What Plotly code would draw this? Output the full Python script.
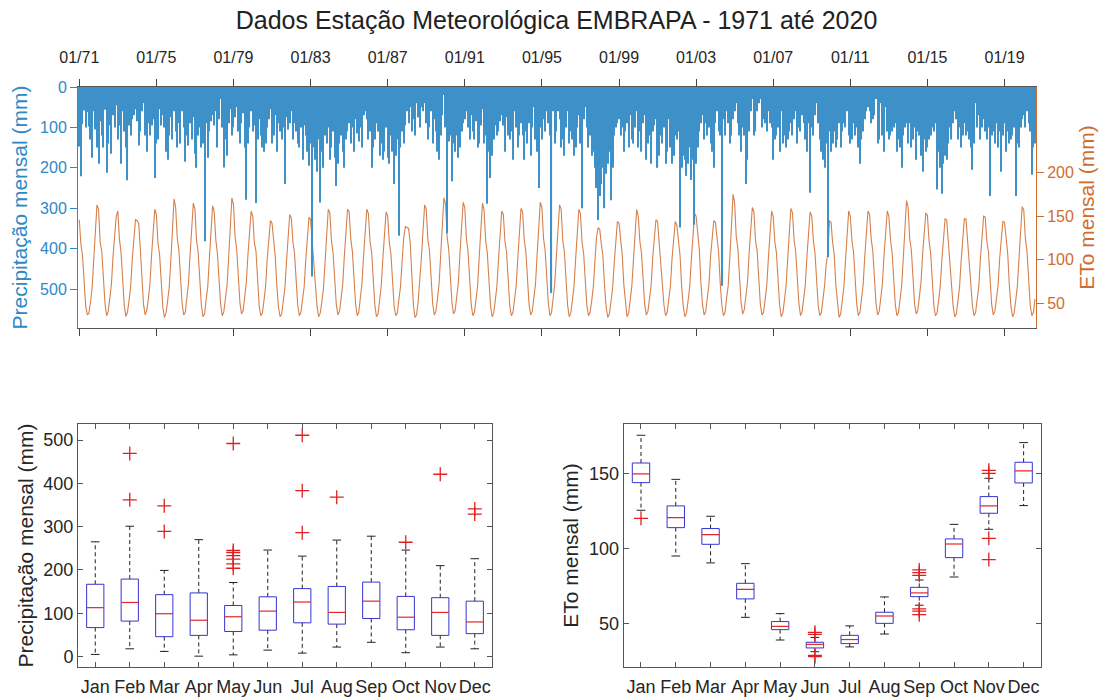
import plotly.graph_objects as go

# ---------------- data ----------------
title_text = "Dados Estação Meteorológica EMBRAPA - 1971 até 2020"
year_tick_labels = ["01/71", "01/75", "01/79", "01/83", "01/87", "01/91", "01/95",
                    "01/99", "01/03", "01/07", "01/11", "01/15", "01/19"]
month_labels = ["Jan", "Feb", "Mar", "Apr", "May", "Jun",
                "Jul", "Aug", "Sep", "Oct", "Nov", "Dec"]

# monthly precipitation (mm), Jan 1971 .. Aug 2020, one row per year
precip_rows = [
    [147, 221, 92, 58, 100, 62, 98, 130, 175, 60, 105, 150],
    [190, 85, 120, 150, 56, 212, 140, 95, 165, 70, 100, 45],
    [130, 95, 190, 60, 110, 150, 231, 95, 120, 80, 70, 55],
    [85, 145, 110, 60, 40, 120, 160, 90, 120, 95, 80, 225],
    [140, 130, 55, 95, 70, 100, 160, 180, 120, 75, 130, 60],
    [110, 150, 90, 140, 60, 100, 185, 120, 145, 90, 130, 75],
    [165, 200, 120, 100, 150, 140, 382, 90, 175, 110, 85, 70],
    [95, 60, 150, 80, 30, 100, 199, 130, 170, 90, 55, 120],
    [100, 75, 50, 110, 140, 90, 65, 150, 279, 140, 100, 60],
    [110, 95, 287, 130, 80, 120, 150, 160, 140, 100, 80, 55],
    [140, 120, 70, 160, 90, 110, 130, 100, 240, 75, 105, 90],
    [60, 130, 90, 110, 140, 150, 100, 180, 95, 120, 160, 195],
    [140, 469, 150, 180, 210, 130, 286, 160, 200, 120, 140, 100],
    [180, 150, 110, 175, 245, 190, 140, 120, 160, 200, 130, 110],
    [90, 140, 100, 160, 80, 115, 135, 100, 150, 70, 60, 80],
    [130, 110, 200, 150, 130, 90, 110, 170, 140, 180, 160, 100],
    [175, 190, 120, 160, 240, 170, 130, 368, 150, 110, 140, 95],
    [60, 90, 50, 110, 80, 120, 40, 75, 100, 50, 60, 40],
    [90, 130, 100, 60, 140, 80, 110, 160, 180, 120, 70, 20],
    [100, 362, 135, 120, 233, 140, 160, 120, 175, 150, 110, 90],
    [80, 60, 100, 130, 70, 110, 130, 85, 150, 140, 95, 55],
    [140, 120, 289, 160, 225, 170, 130, 95, 120, 110, 85, 70],
    [95, 160, 75, 120, 130, 110, 180, 60, 100, 150, 120, 90],
    [120, 180, 110, 140, 90, 170, 100, 50, 130, 160, 250, 100],
    [130, 80, 110, 60, 90, 120, 510, 60, 140, 110, 60, 80],
    [150, 130, 170, 100, 60, 140, 110, 130, 170, 150, 100, 70],
    [140, 300, 80, 50, 100, 150, 120, 170, 160, 200, 250, 329],
    [270, 240, 200, 300, 215, 190, 160, 280, 200, 120, 100, 90],
    [80, 120, 100, 160, 110, 90, 150, 70, 130, 140, 100, 60],
    [150, 110, 160, 90, 70, 180, 140, 120, 190, 110, 95, 80],
    [200, 170, 120, 140, 100, 190, 160, 80, 150, 190, 170, 120],
    [130, 110, 348, 200, 170, 180, 220, 190, 150, 230, 180, 341],
    [190, 150, 110, 90, 70, 130, 90, 120, 100, 140, 160, 200],
    [90, 60, 110, 120, 492, 80, 120, 60, 90, 140, 120, 80],
    [60, 40, 90, 120, 160, 100, 120, 240, 180, 110, 60, 30],
    [120, 110, 60, 40, 30, 100, 80, 90, 110, 60, 90, 100],
    [180, 130, 120, 100, 160, 60, 140, 120, 150, 130, 110, 90],
    [120, 80, 60, 140, 100, 110, 70, 90, 130, 160, 90, 262],
    [100, 120, 70, 40, 90, 130, 160, 180, 200, 140, 421, 110],
    [160, 140, 110, 150, 130, 90, 150, 110, 90, 100, 60, 120],
    [140, 130, 90, 120, 100, 150, 190, 130, 110, 80, 60, 50],
    [60, 90, 80, 70, 30, 140, 130, 40, 120, 160, 50, 110],
    [130, 120, 110, 100, 90, 160, 130, 150, 200, 120, 100, 90],
    [140, 90, 150, 130, 100, 180, 110, 120, 170, 210, 130, 160],
    [150, 130, 120, 100, 110, 90, 254, 160, 200, 264, 190, 170],
    [180, 140, 100, 130, 90, 60, 80, 130, 100, 150, 120, 90],
    [120, 110, 130, 150, 205, 140, 40, 100, 70, 130, 100, 80],
    [110, 130, 100, 270, 120, 110, 140, 90, 150, 110, 210, 120],
    [90, 160, 110, 140, 130, 120, 100, 270, 140, 150, 100, 80],
    [70, 100, 60, 90, 110, 217, 150, 140],
]

# monthly reference evapotranspiration ETo (mm), same period
eto_rows = [
    [146, 118, 105, 70, 47, 37, 39, 52, 68, 100, 132, 163],
    [158, 120, 110, 72, 50, 36, 41, 56, 72, 104, 128, 150],
    [156, 124, 108, 74, 48, 35, 40, 54, 70, 101, 127, 146],
    [145, 142, 112, 73, 49, 37, 42, 55, 73, 105, 131, 158],
    [152, 119, 106, 71, 46, 34, 39, 53, 69, 99, 134, 170],
    [160, 125, 111, 75, 50, 37, 40, 57, 74, 107, 136, 165],
    [158, 122, 109, 72, 48, 35, 38, 55, 70, 102, 130, 162],
    [155, 123, 107, 74, 49, 36, 41, 56, 71, 103, 138, 171],
    [163, 126, 112, 76, 51, 38, 42, 58, 75, 106, 133, 156],
    [150, 120, 110, 73, 47, 36, 39, 54, 70, 101, 127, 145],
    [142, 119, 104, 70, 46, 35, 38, 53, 68, 98, 129, 152],
    [148, 121, 107, 72, 48, 36, 40, 55, 69, 100, 128, 149],
    [146, 118, 103, 71, 47, 35, 39, 52, 67, 97, 131, 158],
    [154, 122, 108, 74, 49, 37, 41, 56, 72, 104, 132, 158],
    [155, 124, 110, 75, 50, 36, 40, 57, 73, 105, 133, 158],
    [153, 121, 109, 73, 48, 35, 38, 54, 71, 102, 130, 155],
    [150, 120, 107, 72, 47, 36, 39, 55, 70, 99, 126, 138],
    [137, 136, 120, 74, 48, 34, 37, 53, 85, 103, 134, 163],
    [158, 123, 111, 75, 50, 37, 41, 56, 73, 106, 137, 171],
    [164, 126, 112, 76, 51, 38, 42, 58, 74, 108, 135, 166],
    [160, 124, 110, 74, 49, 36, 40, 55, 71, 104, 134, 165],
    [157, 122, 108, 73, 48, 35, 39, 54, 70, 101, 130, 156],
    [152, 121, 109, 72, 47, 36, 40, 55, 71, 102, 131, 159],
    [155, 123, 110, 74, 49, 37, 41, 57, 72, 105, 135, 166],
    [160, 125, 111, 75, 50, 36, 40, 56, 73, 104, 133, 163],
    [158, 122, 109, 73, 48, 35, 39, 54, 70, 101, 130, 158],
    [153, 120, 107, 71, 47, 36, 40, 53, 69, 98, 126, 137],
    [135, 118, 104, 70, 46, 34, 38, 52, 67, 96, 122, 144],
    [142, 119, 106, 72, 48, 35, 39, 54, 70, 100, 128, 158],
    [150, 121, 108, 73, 49, 37, 41, 56, 71, 103, 130, 146],
    [144, 120, 107, 72, 48, 36, 40, 55, 70, 101, 127, 144],
    [140, 118, 105, 70, 47, 35, 39, 53, 69, 99, 124, 153],
    [150, 131, 112, 73, 49, 37, 41, 57, 72, 104, 129, 145],
    [143, 121, 109, 74, 48, 36, 40, 56, 71, 103, 135, 175],
    [165, 126, 113, 76, 51, 38, 43, 59, 75, 107, 136, 160],
    [155, 122, 110, 73, 49, 37, 40, 55, 71, 102, 131, 156],
    [150, 121, 108, 72, 48, 35, 39, 54, 70, 101, 130, 159],
    [154, 123, 109, 74, 50, 36, 41, 56, 72, 104, 132, 155],
    [150, 122, 108, 73, 48, 36, 40, 55, 71, 95, 107, 145],
    [143, 120, 106, 71, 47, 34, 38, 53, 69, 99, 128, 156],
    [150, 122, 109, 73, 49, 36, 40, 56, 72, 104, 131, 156],
    [152, 124, 110, 74, 50, 37, 41, 57, 73, 105, 132, 156],
    [150, 123, 109, 73, 49, 36, 40, 55, 71, 103, 134, 168],
    [160, 124, 111, 75, 50, 38, 42, 58, 74, 106, 132, 154],
    [151, 122, 108, 73, 48, 36, 39, 54, 70, 100, 129, 147],
    [146, 121, 107, 72, 47, 35, 38, 53, 69, 99, 128, 147],
    [147, 122, 108, 73, 48, 36, 40, 55, 70, 101, 130, 150],
    [149, 121, 109, 72, 49, 37, 41, 56, 71, 102, 127, 144],
    [143, 120, 107, 71, 47, 35, 39, 54, 70, 101, 133, 161],
    [157, 124, 110, 74, 48, 36, 40, 55],
]

# box-plot statistics per month
p_low = [5, 18, 12, 1, 4, 15, 8, 22, 33, 9, 22, 18]
p_q1 = [67, 82, 46, 49, 58, 61, 78, 75, 88, 62, 49, 53]
p_med = [113, 125, 99, 84, 92, 105, 126, 102, 128, 91, 102, 80]
p_q3 = [167, 179, 143, 147, 118, 138, 157, 162, 172, 139, 136, 128]
p_high = [265, 301, 199, 270, 171, 246, 232, 269, 278, 246, 210, 226]
p_out_month = [2, 2, 3, 3, 5, 5, 5, 5, 5, 5, 5, 7, 7, 7, 8, 10, 11, 12, 12]
p_out_value = [469, 362, 348, 289, 492, 245, 240, 233, 225, 214, 204,
               511, 383, 286, 368, 264, 421, 341, 329]

e_low = [125.8, 95.3, 90.7, 54.4, 39.3, 31.5, 34.7, 43.3, 62.5, 81.3, 113.1, 128.9]
e_q1 = [144.2, 114.2, 103.1, 66.7, 46.2, 34.0, 36.9, 50.4, 68.2, 94.2, 123.8, 144.0]
e_med = [150.0, 120.9, 109.6, 73.1, 48.4, 36.4, 39.6, 55.3, 70.7, 103.3, 128.7, 152.0]
e_q3 = [157.3, 128.7, 113.6, 77.1, 51.6, 37.8, 42.4, 57.8, 74.4, 106.7, 134.9, 157.8]
e_high = [175.8, 146.4, 121.8, 90.2, 56.9, 41.0, 48.7, 68.0, 79.3, 116.4, 147.1, 170.9]
e_out_month = [1, 6, 6, 6, 6, 9, 9, 9, 9, 9, 9, 11, 11, 11, 11]
e_out_value = [120.4, 44.4, 43.0, 29.0, 28.2, 86.0, 84.2, 82.4, 60.0, 58.6, 56.2,
               152.4, 150.4, 107.1, 92.9]

# ---------------- styling ----------------
FONT = "Liberation Sans, Arial, Helvetica, sans-serif"
BLUE_AX = "#2c89c6"
BAR_BLUE = "#3d90c8"
ORANGE_AX = "#cf6d2e"
ORANGE_LINE = "#d6804c"
FRAME = "#555555"
BOX_BLUE = "#3535cf"
MED_RED = "#e0282a"
OUT_RED = "#e02020"

precip = [v for row in precip_rows for v in row]
eto = [v for row in eto_rows for v in row]
idx = list(range(len(precip)))
tick_pos = [48 * k for k in range(len(year_tick_labels))]

fig = go.Figure()

# ETo line (right axis, base y)
fig.add_trace(go.Scatter(x=idx, y=eto, mode="lines", xaxis="x", yaxis="y",
                         line=dict(color=ORANGE_LINE, width=1.1),
                         showlegend=False, hoverinfo="skip"))
# precipitation bars (left axis, overlaying -> drawn above line)
fig.add_trace(go.Bar(x=idx, y=precip, xaxis="x", yaxis="y2",
                     marker=dict(color=BAR_BLUE, line=dict(width=0)),
                     showlegend=False, hoverinfo="skip"))


def box_traces(low, q1, med, q3, high, out_m, out_v, xa, ya):
    bx, by, mx, my, wx, wy, cx, cy = [], [], [], [], [], [], [], []
    for i in range(len(med)):
        m = i + 1
        bx += [m - 0.25, m + 0.25, m + 0.25, m - 0.25, m - 0.25, None]
        by += [q1[i], q1[i], q3[i], q3[i], q1[i], None]
        mx += [m - 0.25, m + 0.25, None]
        my += [med[i], med[i], None]
        wx += [m, m, None, m, m, None]
        wy += [q3[i], high[i], None, q1[i], low[i], None]
        cx += [m - 0.125, m + 0.125, None, m - 0.125, m + 0.125, None]
        cy += [high[i], high[i], None, low[i], low[i], None]
    tr = [
        go.Scatter(x=wx, y=wy, mode="lines", line=dict(color="#222222", width=1, dash="4px,3px")),
        go.Scatter(x=cx, y=cy, mode="lines", line=dict(color="#222222", width=1)),
        go.Scatter(x=bx, y=by, mode="lines", line=dict(color=BOX_BLUE, width=1)),
        go.Scatter(x=mx, y=my, mode="lines", line=dict(color=MED_RED, width=1.2)),
        go.Scatter(x=out_m, y=out_v, mode="markers",
                   marker=dict(symbol="cross-thin", size=10, line=dict(color=OUT_RED, width=1.3))),
    ]
    for t in tr:
        t.update(xaxis=xa, yaxis=ya, showlegend=False, hoverinfo="skip")
    return tr


for t in box_traces(p_low, p_q1, p_med, p_q3, p_high, p_out_month, p_out_value, "x2", "y3"):
    fig.add_trace(t)
for t in box_traces(e_low, e_q1, e_med, e_q3, e_high, e_out_month, e_out_value, "x3", "y4"):
    fig.add_trace(t)

W, H = 1113, 700
top_dom = [1 - 328 / H, 1 - 87 / H]
bot_dom = [1 - 667 / H, 1 - 424 / H]

box_axis = dict(showline=True, linecolor=FRAME, linewidth=1, mirror="allticks",
                ticks="inside", ticklen=5, tickcolor=FRAME, showgrid=False, zeroline=False,
                automargin=False, tickfont=dict(size=18, color="#262626"))

fig.update_layout(
    width=W, height=H,
    margin=dict(l=0, r=0, t=0, b=0),
    paper_bgcolor="white", plot_bgcolor="white",
    font=dict(family=FONT, color="#262626"),
    bargap=0.3,
    title=dict(text=title_text, x=0.5, xanchor="center", y=1 - 20 / H, yanchor="middle",
               font=dict(size=25, color="#222222"), automargin=False),
    xaxis=dict(domain=[78 / W, 1036 / W], anchor="y", side="top",
               range=[-0.8, 595.6], tickvals=tick_pos, ticktext=year_tick_labels,
               ticks="outside", ticklen=7, tickcolor="#444444", ticklabelstandoff=10,
               showline=True, linecolor="#555555", linewidth=1, mirror="ticks",
               showgrid=False, zeroline=False, automargin=False,
               tickfont=dict(size=16, color="#262626")),
    yaxis=dict(domain=top_dom, anchor="x", side="right", range=[22, 298],
               tickvals=[50, 100, 150, 200], ticks="outside", ticklen=7,
               tickcolor=ORANGE_AX, showline=True, linecolor=ORANGE_AX, linewidth=1,
               showgrid=False, zeroline=False, automargin=False,
               tickfont=dict(size=16, color=ORANGE_AX),
               title=dict(text="ETo mensal (mm)", font=dict(size=21, color=ORANGE_AX), standoff=6)),
    yaxis2=dict(overlaying="y", anchor="x", side="left", range=[596.5, 0],
                tickvals=[0, 100, 200, 300, 400, 500], ticks="outside", ticklen=7,
                tickcolor=BLUE_AX, showline=True, linecolor=BLUE_AX, linewidth=1,
                showgrid=False, zeroline=False, automargin=False,
                tickfont=dict(size=16, color=BLUE_AX),
                title=dict(text="Precipitação mensal (mm)", font=dict(size=21, color=BLUE_AX), standoff=6)),
    xaxis2=dict(domain=[78 / W, 492 / W], anchor="y3", range=[0.5, 12.5],
                tickvals=list(range(1, 13)), ticktext=month_labels, ticklabelstandoff=3, **box_axis),
    yaxis3=dict(domain=bot_dom, anchor="x2", range=[-24, 537],
                tickvals=[0, 100, 200, 300, 400, 500],
                title=dict(text="Precipitação mensal (mm)", font=dict(size=21, color="#262626"), standoff=4),
                **box_axis),
    xaxis3=dict(domain=[623.6 / W, 1041 / W], anchor="y4", range=[0.5, 12.5],
                tickvals=list(range(1, 13)), ticktext=month_labels, ticklabelstandoff=3, **box_axis),
    yaxis4=dict(domain=bot_dom, anchor="x3", range=[21.3, 183.3],
                tickvals=[50, 100, 150],
                title=dict(text="ETo mensal (mm)", font=dict(size=21, color="#262626"), standoff=4),
                **box_axis),
)

fig.write_html("out.html", config={"displayModeBar": False},
               post_script="document.body.style.margin='0';")
